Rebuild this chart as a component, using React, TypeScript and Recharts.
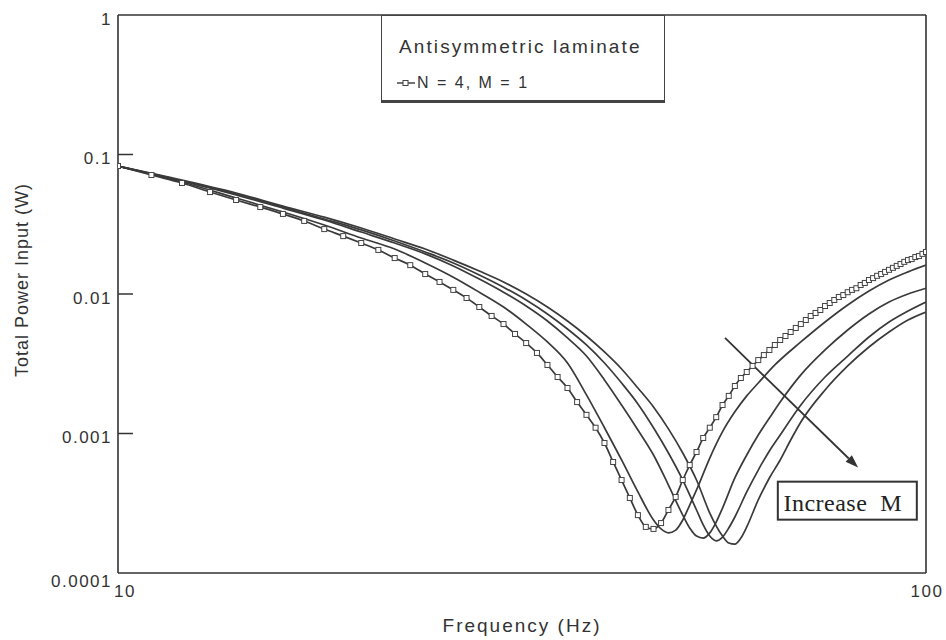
import React from "react";
import { LineChart, Line, XAxis, YAxis, Legend, ReferenceLine, ReferenceDot, Label } from "recharts";

// frequency (Hz) and total power input (W)
const freqM1 = [
  10, 11, 12, 13, 14, 15, 16, 17, 18, 19,
  20, 21, 22, 23, 24, 25, 26, 27, 28, 29,
  30, 31, 32, 33, 34, 35, 36, 37, 38, 39,
  40, 41, 42, 43, 44, 45, 46, 47, 48, 49,
  50, 51, 52, 53, 54, 55, 56, 57, 58, 59,
  60, 61, 62, 63, 64, 65, 66, 67, 68, 69,
  70, 71, 72, 73, 74, 75, 76, 77, 78, 79,
  80, 81, 82, 83, 84, 85, 86, 87, 88, 89,
  90, 91, 92, 93, 94, 95, 96, 97, 98, 99,
  100,
];
const powerM1 = [
  0.0827, 0.0713, 0.0625, 0.0538, 0.0472, 0.042, 0.0375, 0.0334, 0.0292, 0.026,
  0.0232, 0.0207, 0.0181, 0.0161, 0.0139, 0.0122, 0.0107, 0.00936, 0.00807, 0.00696,
  0.00609, 0.00517, 0.00445, 0.00378, 0.0031, 0.00254, 0.00212, 0.00168, 0.00136, 0.0011,
  0.000855, 0.000625, 0.000464, 0.000345, 0.00026, 0.000214, 0.000207, 0.000228, 0.000283, 0.000351,
  0.000464, 0.000594, 0.000737, 0.000929, 0.0011, 0.00131, 0.0016, 0.00186, 0.00219, 0.0025,
  0.00276, 0.00305, 0.00336, 0.00365, 0.00397, 0.00431, 0.00468, 0.005, 0.00534, 0.00571,
  0.00609, 0.00651, 0.00696, 0.00731, 0.00768, 0.0082, 0.00862, 0.00906, 0.00952, 0.00983,
  0.0103, 0.0107, 0.011, 0.0116, 0.012, 0.0126, 0.013, 0.0135, 0.0139, 0.0144,
  0.0149, 0.0154, 0.0159, 0.0164, 0.017, 0.0175, 0.0178, 0.0184, 0.0187, 0.0194,
  0.02,
];

const freqM2 = [10, 12, 14, 16, 18, 20, 22, 24, 26, 28, 30, 32, 34, 36, 38, 40, 42, 44, 46, 47, 48, 49, 50, 51, 52, 54, 56, 58, 60, 62, 65, 70, 75, 80, 85, 90, 95, 100];
const powerM2 = [
  0.0827, 0.0635, 0.0488, 0.0387, 0.0312, 0.0252, 0.021, 0.0167, 0.0132, 0.0103,
  0.00807, 0.00609, 0.00453, 0.0032, 0.00189, 0.0011, 0.000646, 0.000381, 0.00024, 0.000207,
  0.000194, 0.000203, 0.00024, 0.000307, 0.000394, 0.000667, 0.00103, 0.00143, 0.00186, 0.0023,
  0.0031, 0.00453, 0.0063, 0.00834, 0.0105, 0.0126, 0.0144, 0.0161,
];

const freqM3 = [10, 12, 14, 16, 18, 20, 22, 24, 26, 28, 30, 32, 34, 36, 38, 40, 42, 44, 46, 48, 50, 51, 52, 53, 54, 55, 56, 58, 60, 62, 64, 66, 70, 75, 80, 85, 90, 95, 100];
const powerM3 = [
  0.0827, 0.0646, 0.0513, 0.0413, 0.0339, 0.0278, 0.0232, 0.0194, 0.0159, 0.0128,
  0.0103, 0.0082, 0.0064, 0.00484, 0.00359, 0.00242, 0.0016, 0.00106, 0.000701, 0.000427,
  0.00026, 0.00021, 0.000184, 0.000178, 0.000194, 0.000232, 0.000292, 0.00048, 0.000701, 0.000975,
  0.00129, 0.00168, 0.00263, 0.00397, 0.00552, 0.00719, 0.00876, 0.01, 0.011,
];

const freqM4 = [10, 12, 14, 16, 18, 20, 22, 24, 26, 28, 30, 32, 34, 36, 38, 40, 42, 44, 46, 48, 50, 52, 53, 54, 55, 56, 57, 58, 60, 62, 64, 66, 70, 75, 80, 85, 90, 95, 100];
const powerM4 = [
  0.0827, 0.0646, 0.0521, 0.042, 0.0345, 0.0288, 0.024, 0.02, 0.0167, 0.0137,
  0.0112, 0.00906, 0.00719, 0.00561, 0.00431, 0.0032, 0.0023, 0.00163, 0.0011, 0.000725,
  0.000464, 0.000283, 0.000221, 0.000184, 0.00017, 0.000181, 0.00021, 0.000252, 0.000381, 0.000547,
  0.000749, 0.000975, 0.0016, 0.00254, 0.00359, 0.00492, 0.0063, 0.00755, 0.00876,
];

const freqM5 = [10, 12, 14, 16, 18, 20, 22, 24, 26, 28, 30, 32, 34, 36, 38, 40, 42, 44, 46, 48, 50, 52, 54, 56, 57, 58, 59, 60, 62, 64, 66, 68, 70, 75, 80, 85, 90, 95, 100];
const powerM5 = [
  0.0827, 0.0656, 0.053, 0.0427, 0.0356, 0.0297, 0.0248, 0.021, 0.0175, 0.0146,
  0.0122, 0.01, 0.00807, 0.0064, 0.005, 0.00384, 0.0029, 0.00212, 0.00155, 0.00108,
  0.000725, 0.000464, 0.000269, 0.000184, 0.000164, 0.000161, 0.000178, 0.000214, 0.000334, 0.00048,
  0.000646, 0.000898, 0.00121, 0.00205, 0.00305, 0.00417, 0.00534, 0.00651, 0.00743,
];

const xTicks = [10, 100];
const yTicks = [1, 0.1, 0.01, 0.001, 0.0001];
const yTickLabels = ["1", "0.1", "0.01", "0.001", "0.0001"];

const toPoints = (f: number[], p: number[]) => f.map((x, i) => ({ f: x, p: p[i] }));

const sans = "'Liberation Sans', Arial, sans-serif";
const ink = "#333";

const YTick = (props: any) => {
  const { x, y, payload } = props;
  const i = yTicks.indexOf(payload.value);
  const inner = i > 0 && i < yTicks.length - 1;
  return (
    <g>
      {inner && <line x1={x} x2={x + 15} y1={y} y2={y} stroke={ink} strokeWidth={1.5} />}
      <text
        x={x - 6}
        y={y + (i === yTicks.length - 1 ? 8 : 4)}
        dy="0.35em"
        textAnchor="end"
        fill={ink}
        fontFamily={sans}
        fontSize={17}
        letterSpacing={1.5}
      >
        {yTickLabels[i]}
      </text>
    </g>
  );
};

const XTick = (props: any) => {
  const { x, y, payload } = props;
  return (
    <text
      x={x + (payload.value === 10 ? 7 : 1)}
      y={y + 18}
      dy="0.35em"
      textAnchor="middle"
      fill={ink}
      fontFamily={sans}
      fontSize={17}
      letterSpacing={1.5}
    >
      {payload.value}
    </text>
  );
};

const SquareDot = (props: any) => {
  const { cx, cy, index } = props;
  return <rect key={`sq-${index}`} x={cx - 2.5} y={cy - 2.5} width={5} height={5} fill="#fff" stroke="#444" strokeWidth={1} />;
};

const LegendBox = () => (
  <div
    style={{
      position: "relative",
      width: 284,
      height: 88,
      boxSizing: "border-box",
      border: "1.5px solid #444",
      borderBottomWidth: 3,
      background: "#fff",
      fontFamily: sans,
      color: ink,
    }}
  >
    <div style={{ position: "absolute", left: 17, top: 20, fontSize: 19, letterSpacing: 2.1, whiteSpace: "nowrap" }}>
      Antisymmetric laminate
    </div>
    <div style={{ position: "absolute", left: 14, top: 58, display: "flex", alignItems: "center", whiteSpace: "nowrap" }}>
      <svg width={20} height={10}>
        <line x1={1} x2={19} y1={5} y2={5} stroke="#444" strokeWidth={1.5} />
        <rect x={7} y={2.5} width={5} height={5} fill="#fff" stroke="#444" strokeWidth={1} />
      </svg>
      <span style={{ fontSize: 16, letterSpacing: 2, marginLeft: 1 }}>N = 4, M = 1</span>
    </div>
  </div>
);

const Arrow = (props: any) => {
  const { x1, y1, x2, y2 } = props;
  const a = Math.atan2(y2 - y1, x2 - x1);
  const len = 13;
  const w = 4.5;
  const bx = x2 - len * Math.cos(a);
  const by = y2 - len * Math.sin(a);
  const px = -Math.sin(a) * w;
  const py = Math.cos(a) * w;
  return (
    <g>
      <line x1={x1} y1={y1} x2={bx} y2={by} stroke={ink} strokeWidth={1.8} />
      <polygon points={`${x2},${y2} ${bx + px},${by + py} ${bx - px},${by - py}`} fill={ink} />
    </g>
  );
};

const IncreaseBox = (props: any) => {
  const { cx, cy } = props;
  return (
    <g>
      <rect x={cx - 69} y={cy - 19} width={139} height={38} fill="#fff" stroke={ink} strokeWidth={2} />
      <text
        x={cx - 4}
        y={cy + 2}
        dy="0.35em"
        textAnchor="middle"
        fill="#222"
        fontFamily="'Liberation Serif', 'Times New Roman', serif"
        fontSize={24}
        letterSpacing={0.5}
        style={{ whiteSpace: "pre" }}
      >
        {"Increase  M"}
      </text>
    </g>
  );
};

const lineStyle = { stroke: "#3a3a3a", strokeWidth: 1.7 };

export default function App() {
  return (
    <div style={{ position: "absolute", left: 0, top: 0, width: 946, height: 640, background: "#fff" }}>
      <LineChart width={946} height={640} margin={{ top: 15, right: 20, bottom: 0, left: 0 }}>
        <XAxis
          dataKey="f"
          type="number"
          scale="log"
          domain={[10, 100]}
          ticks={xTicks}
          allowDataOverflow
          height={67}
          tickSize={0}
          tickMargin={0}
          tickLine={false}
          tick={<XTick />}
          axisLine={{ stroke: ink, strokeWidth: 1.6 }}
        >
          <Label
            value="Frequency (Hz)"
            position="insideBottom"
            offset={8}
            fill={ink}
            style={{ fontFamily: sans, fontSize: 19, letterSpacing: 2 }}
          />
        </XAxis>
        <YAxis
          type="number"
          scale="log"
          domain={[0.0001, 1]}
          ticks={yTicks}
          allowDataOverflow
          width={118}
          tickSize={0}
          tickMargin={0}
          tickLine={false}
          tick={<YTick />}
          axisLine={{ stroke: ink, strokeWidth: 1.6 }}
        >
          <Label
            content={({ viewBox }: any) => {
              const cx = 22;
              const cy = viewBox.y + viewBox.height / 2 - 14;
              return (
                <text
                  x={cx}
                  y={cy}
                  transform={`rotate(-90 ${cx} ${cy})`}
                  textAnchor="middle"
                  dy="0.35em"
                  fill={ink}
                  fontFamily={sans}
                  fontSize={18}
                  letterSpacing={1}
                >
                  Total Power Input (W)
                </text>
              );
            }}
          />
        </YAxis>
        {/* frame: top and right edges */}
        <ReferenceLine y={1} stroke={ink} strokeWidth={1.6} />
        <ReferenceLine x={100} stroke={ink} strokeWidth={1.6} />

        <Legend layout="vertical" align="center" verticalAlign="middle" content={<LegendBox />} wrapperStyle={{ left: 381, top: 15, width: 284, height: 88 }} />

        <Line data={toPoints(freqM2, powerM2)} dataKey="p" name="M=2" type="monotone" dot={false} {...lineStyle} isAnimationActive={false} />
        <Line data={toPoints(freqM3, powerM3)} dataKey="p" name="M=3" type="monotone" dot={false} {...lineStyle} isAnimationActive={false} />
        <Line data={toPoints(freqM4, powerM4)} dataKey="p" name="M=4" type="monotone" dot={false} {...lineStyle} isAnimationActive={false} />
        <Line data={toPoints(freqM5, powerM5)} dataKey="p" name="M=5" type="monotone" dot={false} {...lineStyle} isAnimationActive={false} />
        <Line
          data={toPoints(freqM1, powerM1)}
          dataKey="p"
          name="N=4, M=1"
          type="monotone"
          dot={<SquareDot />}
          {...lineStyle}
          isAnimationActive={false}
        />

        <ReferenceLine segment={[{ x: 56.4, y: 0.00484 }, { x: 82.4, y: 0.00057 }]} shape={<Arrow />} />
        <ReferenceDot x={79.8} y={0.00033} r={0} shape={<IncreaseBox />} />
      </LineChart>
    </div>
  );
}
